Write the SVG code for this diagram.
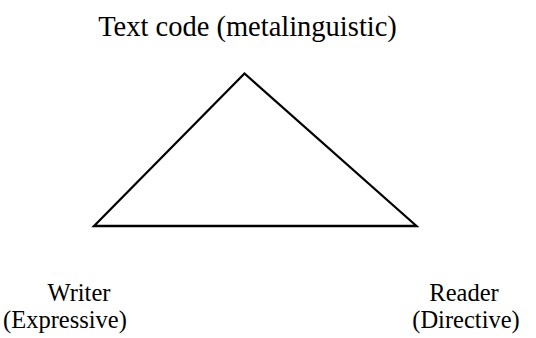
<svg xmlns="http://www.w3.org/2000/svg" width="536" height="338" viewBox="0 0 536 338">
<style>
.t{font-size:28.5px}
.b{font-size:24.5px}
.edge{fill:none;stroke:#000;stroke-width:2.3;stroke-linejoin:miter}
</style>
<rect width="536" height="338" fill="#fff"/>
<g id="connectors">
<polygon class="edge" points="244.5,73.5 94,226 416.5,226"/>
</g>
<g font-family="'Liberation Serif', 'DejaVu Serif', serif" fill="#000" text-anchor="middle">
<g id="node-text-code">
<text class="t" x="247.5" y="36">Text code (metalinguistic)</text>
</g>
<g id="node-writer">
<text class="b" x="79" y="301">Writer</text>
<text class="b" x="65" y="328">(Expressive)</text>
</g>
<g id="node-reader">
<text class="b" x="464" y="301">Reader</text>
<text class="b" x="466" y="328">(Directive)</text>
</g>
</g>
</svg>
